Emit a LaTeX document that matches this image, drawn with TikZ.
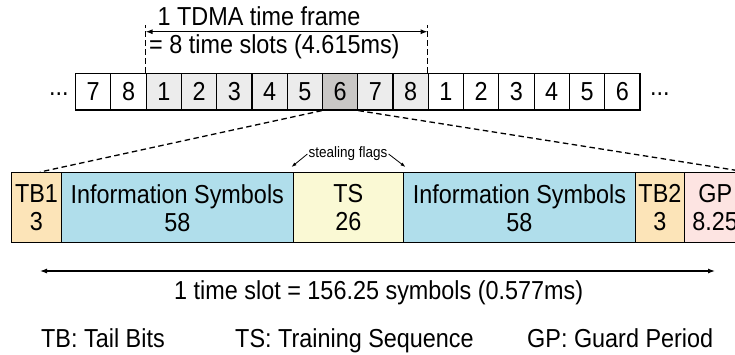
\documentclass[tikz,border=0pt]{standalone}
\usepackage{fontspec}
\setmainfont[FakeStretch=0.9]{Liberation Sans}
\usetikzlibrary{arrows.meta}
\definecolor{tbc}{RGB}{252,228,184}
\definecolor{infoc}{RGB}{176,222,235}
\definecolor{tsc}{RGB}{250,249,212}
\definecolor{gpc}{RGB}{253,228,226}
\definecolor{lgray}{RGB}{236,236,236}
\definecolor{dgray}{RGB}{201,199,197}
\tikzset{
 cell/.style={draw, line width=1.2pt, minimum width=35.27pt, minimum height=36.7pt, inner sep=0pt, anchor=west},
 seg/.style={draw, line width=1.4pt, minimum height=70pt, inner sep=0pt, align=center},
 dline/.style={dash pattern=on 5.5pt off 3.5pt, line width=1.3pt},
 dimarrow/.style={line width=1.2pt, {Latex[length=7pt,width=5pt]}-{Latex[length=7pt,width=5pt]}},
 flag/.style={line width=0.8pt, -{Latex[length=5pt,width=3.5pt]}},
 txt/.style={anchor=base west, inner sep=0pt},
}
\begin{document}
\begin{tikzpicture}[x=1pt,y=-1pt, font=\fontsize{26}{28}\selectfont]
\useasboundingbox (0,0) rectangle (735,354);
\clip (0,0) rectangle (735,354);
% slot strip
\foreach \i/\t/\c in {0/7/white,1/8/white,2/1/lgray,3/2/lgray,4/3/lgray,5/4/lgray,6/5/lgray,7/6/dgray,8/7/lgray,9/8/lgray,10/1/white,11/2/white,12/3/white,13/4/white,14/5/white,15/6/white}
  \node[cell, fill=\c] (c\i) at ({75+35.27*\i},91.65) {\t};
\node[txt] (dl) at (49,95.5) {...};
\node[txt] (dr) at (650,95.5) {...};
% frame dimension
\coordinate (f1) at ([yshift=48pt]c2.north west);
\coordinate (f2) at ([yshift=48pt]c10.north west);
\draw[dline] (c2.north west) -- (f1);
\draw[dline] (c10.north west) -- (f2);
\coordinate (a1) at ([yshift=41pt]c2.north west);
\coordinate (a2) at ([yshift=41pt]c10.north west);
\draw[dimarrow] (a1) -- (a2);
\node[txt] (ft1) at (157.4,25) {1 TDMA time frame};
\node[txt] (ft2) at (149,53.3) {= 8 time slots (4.615ms)};
% burst
\node[seg, fill=tbc, minimum width=49.6pt] (tb1) at (36.5,207.7) {TB1\\3};
\node[seg, fill=infoc, minimum width=232pt] (info1) at (177.3,207.7) {Information Symbols\\58};
\node[seg, fill=tsc, minimum width=110pt] (ts) at (348.3,207.7) {TS\\26};
\node[seg, fill=infoc, minimum width=232.2pt] (info2) at (519.4,207.7) {Information Symbols\\58};
\node[seg, fill=tbc, minimum width=48.8pt] (tb2) at (659.9,207.7) {TB2\\3};
\node[seg, fill=gpc, minimum width=61.7pt] (gp) at (715.2,207.7) {GP\\8.25};
% zoom lines
\draw[dline] (c7.south west) -- ([xshift=3.5pt]tb1.north);
\draw[dline] (c7.south east) -- (gp.north east);
% stealing flags
\node[font=\fontsize{15}{16}\selectfont, inner sep=1pt] (sf) at (348,154) {stealing flags};
\draw[flag] (sf.west) -- ([xshift=-2.5pt,yshift=5pt]info1.north east);
\draw[flag] (sf.east) -- ([xshift=1.5pt,yshift=5pt]ts.north east);
% slot dimension
\coordinate (b1) at (40,271);
\coordinate (b2) at (715,271);
\draw[dimarrow] (b1) -- (b2);
\node[txt] (slot) at (174,299.7) {1 time slot = 156.25 symbols (0.577ms)};
% legend
\node[txt] (l1) at (41,347.3) {TB: Tail Bits};
\node[txt] (l2) at (235,347.3) {TS: Training Sequence};
\node[txt] (l3) at (527,347.3) {GP: Guard Period};
\end{tikzpicture}
\end{document}
